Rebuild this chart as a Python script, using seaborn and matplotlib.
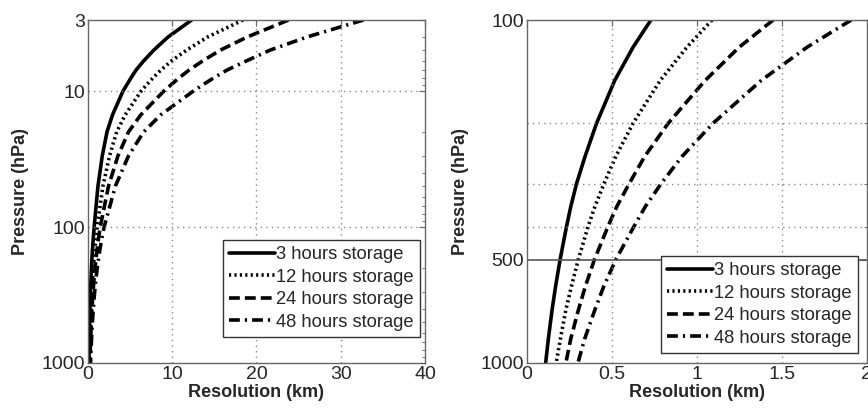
import numpy as np
import pandas as pd
import matplotlib
matplotlib.use("Agg")
import matplotlib.pyplot as plt
import seaborn as sns
from matplotlib.ticker import FixedLocator, FixedFormatter, NullFormatter, LogLocator

# pressure levels (hPa) and resolution (km)
pressure = [3, 4, 5, 6, 7, 8, 10, 15, 20, 30, 50, 100, 120, 150, 200, 250, 300,
            350, 400, 500, 600, 700, 850, 1000]
res_3h = [12.3, 9.5, 7.8, 6.6, 5.7, 5.1, 4.15, 2.9, 2.25, 1.69, 1.18, 0.73, 0.625,
          0.517, 0.41, 0.342, 0.292, 0.258, 0.233, 0.195, 0.168, 0.148, 0.126, 0.11]
res_12h = [18.4, 14.2, 11.7, 9.9, 8.65, 7.7, 6.3, 4.4, 3.4, 2.55, 1.77, 1.09, 0.942,
           0.785, 0.625, 0.523, 0.454, 0.40, 0.36, 0.302, 0.261, 0.229, 0.197, 0.172]
res_24h = [23.8, 18.9, 15.7, 13.6, 12.0, 10.8, 9.0, 6.25, 4.8, 3.55, 2.43, 1.45, 1.25,
           1.05, 0.832, 0.693, 0.602, 0.529, 0.477, 0.397, 0.343, 0.303, 0.258, 0.229]
res_48h = [32.7, 26.0, 21.6, 18.8, 16.5, 14.9, 12.5, 8.6, 6.6, 4.8, 3.25, 1.91, 1.65,
           1.38, 1.096, 0.913, 0.79, 0.697, 0.63, 0.523, 0.451, 0.40, 0.34, 0.30]
labels = ["3 hours storage", "12 hours storage", "24 hours storage", "48 hours storage"]

styles = ["-", (0, (0.6, 0.9)), (0, (3, 1.4)), (0, (3, 1.4, 0.6, 1.4))]

sns.set_style("white")
plt.rcParams["font.family"] = ["Liberation Sans", "DejaVu Sans"]

fig = plt.figure(figsize=(8.68, 4.11), dpi=100)
ax1 = fig.add_axes([0.1014, 0.1168, 0.3882, 0.8345])
ax2 = fig.add_axes([0.6071, 0.1168, 0.3912, 0.8345])

all_res = [res_3h, res_12h, res_24h, res_48h]


def draw(ax, pmin):
    for res, lab, ls in zip(all_res, labels, styles):
        df = pd.DataFrame({"p": pressure, "r": res})
        df = df[df.p >= pmin * 0.7]
        sns.lineplot(data=df, x="r", y="p", ax=ax, color="black", linestyle=ls,
                     lw=2.6, label=lab, sort=False, estimator=None)
    ax.set_yscale("log")
    ax.set_ylabel("Pressure (hPa)", fontsize=13, fontweight="bold")
    ax.set_xlabel("Resolution (km)", fontsize=13, fontweight="bold", labelpad=1)
    ax.tick_params(direction="in", which="both", top=True, right=True,
                   labelsize=14, pad=2, color="#555555")
    ax.tick_params(which="major", length=4)
    ax.tick_params(which="minor", length=2.5)
    for s in ax.spines.values():
        s.set_color("#666666")
        s.set_linewidth(1.0)


# left panel
draw(ax1, 3)
ax1.set_xlim(0, 40)
ax1.set_ylim(1000, 3)
ax1.set_xticks([0, 10, 20, 30, 40])
ax1.yaxis.set_major_locator(FixedLocator([3, 10, 100, 1000]))
ax1.yaxis.set_minor_locator(LogLocator(base=10, subs=np.arange(2, 10)))
ax1.yaxis.set_major_formatter(FixedFormatter(["3", "10", "100", "1000"]))
ax1.yaxis.set_minor_formatter(NullFormatter())
for v in [10, 100]:
    ax1.axhline(v, color="#888888", ls=(0, (1, 3)), lw=1)
for v in [10, 20, 30]:
    ax1.axvline(v, color="#888888", ls=(0, (1, 3)), lw=1)
ax1.yaxis.set_label_coords(-0.175, 0.5)

# right panel
draw(ax2, 100)
ax2.set_xlim(0, 2)
ax2.set_ylim(1000, 100)
ax2.set_xticks([0, 0.5, 1, 1.5, 2])
ax2.set_xticklabels(["0", "0.5", "1", "1.5", "2"])
ax2.yaxis.set_major_locator(FixedLocator([100, 500, 1000]))
ax2.yaxis.set_minor_locator(FixedLocator([200, 300, 400]))
ax2.yaxis.set_major_formatter(FixedFormatter(["100", "500", "1000"]))
ax2.yaxis.set_minor_formatter(NullFormatter())
for v in [200, 300, 400]:
    ax2.axhline(v, color="#888888", ls=(0, (1, 3)), lw=1)
ax2.axhline(500, color="#555555", lw=1.2)
for v in [0.5, 1, 1.5]:
    ax2.axvline(v, color="#888888", ls=(0, (1, 3)), lw=1)
ax2.yaxis.set_label_coords(-0.171, 0.5)

for ax, anchor in [(ax1, (0.985, 0.076)), (ax2, (0.974, 0.03))]:
    leg = ax.legend(loc="lower right", bbox_to_anchor=anchor, fontsize=13.2,
                    handlelength=2.5, handletextpad=0.05, labelspacing=0.3,
                    borderpad=0.33, borderaxespad=0, fancybox=False, framealpha=1)
    leg.get_frame().set_edgecolor("#333333")
    leg.get_frame().set_linewidth(1.0)

fig.savefig("out.png", dpi=100)
